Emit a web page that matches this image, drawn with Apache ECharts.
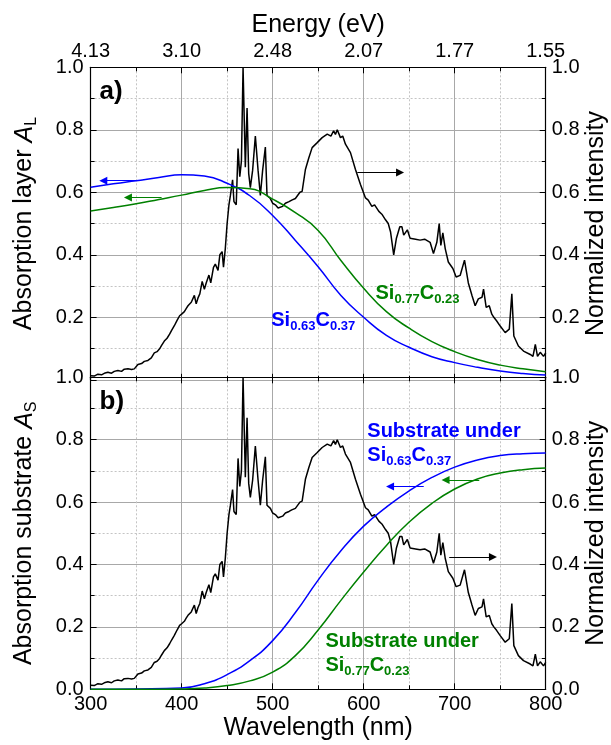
<!DOCTYPE html>
<html>
<head>
<meta charset="utf-8">
<script src="https://cdn.jsdelivr.net/npm/echarts@6/dist/echarts.min.js"></script>
<style>
  html, body { margin: 0; padding: 0; background: #ffffff; }
  #chart { width: 611px; height: 745px; }
</style>
</head>
<body>
<div id="chart"></div>
<script>
// Emission spectrum (normalized intensity vs wavelength in nm)
const specWavelength = [
  300, 304, 308, 312, 316, 319, 323, 326, 330, 334, 337, 341, 345, 348, 350, 352, 356, 359, 363, 366.7,
  370, 373, 375.8, 378, 381, 384, 386.8, 389, 392, 395, 397.8, 400, 403, 405, 407, 410.6, 414, 416, 418, 420,
  422.6, 425, 427, 430, 432, 435, 437, 440, 442, 444.5, 446, 448, 450, 452, 453.6, 456, 457.5, 460, 462, 463.9,
  465.7, 467.5, 470, 471.9, 473.7, 475.5, 478, 481, 484, 486.5, 489, 492, 493.8, 497.5, 500, 503, 506, 508, 511, 514,
  518, 521, 525, 530, 532.4, 536, 539.7, 543.4, 549, 554.4, 560, 564, 567, 569, 571, 574.5, 577, 580, 585.5, 591,
  596.5, 602, 605, 609, 612, 616.7, 620, 624, 627, 629.5, 633, 636, 639.7, 642, 644, 648, 651, 653, 657, 662,
  667, 673, 676.7, 680.4, 683, 684.8, 687, 689.6, 693, 698, 701.6, 706, 710.8, 715, 719, 722.5, 726, 730, 731.7, 734.6,
  738, 740.8, 743, 746, 750, 755.5, 760, 762.8, 765, 770, 775.6, 783, 786, 788.6, 791, 794, 797.6, 800
];
const specIntensity = [
  0.013, 0.012, 0.018, 0.016, 0.022, 0.024, 0.021, 0.027, 0.030, 0.027, 0.034, 0.035, 0.033, 0.035, 0.040, 0.049, 0.052, 0.059, 0.062, 0.070,
  0.086, 0.090, 0.099, 0.110, 0.124, 0.133, 0.146, 0.158, 0.173, 0.190, 0.205, 0.210, 0.218, 0.228, 0.237, 0.248, 0.270, 0.243, 0.262, 0.275,
  0.315, 0.290, 0.310, 0.335, 0.310, 0.360, 0.370, 0.350, 0.400, 0.410, 0.360, 0.420, 0.500, 0.560, 0.590, 0.640, 0.570, 0.560, 0.740, 0.650,
  0.700, 1.000, 0.680, 0.870, 0.660, 0.615, 0.670, 0.780, 0.670, 0.590, 0.670, 0.745, 0.590, 0.580, 0.565, 0.560, 0.550, 0.545, 0.555, 0.565,
  0.570, 0.575, 0.580, 0.600, 0.603, 0.673, 0.710, 0.743, 0.759, 0.775, 0.786, 0.780, 0.797, 0.785, 0.800, 0.775, 0.780, 0.754, 0.727, 0.673,
  0.625, 0.582, 0.575, 0.555, 0.560, 0.539, 0.530, 0.512, 0.500, 0.474, 0.400, 0.453, 0.490, 0.490, 0.463, 0.480, 0.453, 0.455, 0.450, 0.447,
  0.450, 0.440, 0.404, 0.440, 0.500, 0.430, 0.470, 0.420, 0.377, 0.356, 0.329, 0.334, 0.383, 0.310, 0.270, 0.237, 0.259, 0.264, 0.290, 0.232,
  0.237, 0.210, 0.200, 0.189, 0.172, 0.151, 0.162, 0.275, 0.140, 0.108, 0.092, 0.081, 0.075, 0.113, 0.075, 0.088, 0.075, 0.086
];

// Absorption in the layer (panel a)
const layerWavelength = [300, 325, 350, 375, 400, 425, 450, 475, 500, 525, 550, 575, 600, 625, 650, 675, 700, 725, 750, 775, 800];
const layerSi063 = [0.616, 0.627, 0.637, 0.647, 0.656, 0.652, 0.629, 0.589, 0.526, 0.446, 0.362, 0.270, 0.200, 0.142, 0.104, 0.074, 0.055, 0.040, 0.028, 0.020, 0.015];
const layerSi077 = [0.540, 0.551, 0.563, 0.577, 0.591, 0.606, 0.615, 0.611, 0.578, 0.535, 0.478, 0.382, 0.293, 0.218, 0.165, 0.122, 0.090, 0.065, 0.047, 0.035, 0.026];

// Absorption in the substrate (panel b)
const substrateWavelength = [300, 350, 400, 425, 450, 475, 500, 525, 550, 575, 600, 625, 650, 675, 700, 725, 750, 775, 800];
const substrateSi063 = [0.000, 0.001, 0.004, 0.018, 0.047, 0.092, 0.156, 0.246, 0.350, 0.444, 0.523, 0.584, 0.636, 0.679, 0.712, 0.735, 0.749, 0.755, 0.757];
const substrateSi077 = [0.000, 0.000, 0.001, 0.004, 0.012, 0.027, 0.055, 0.108, 0.190, 0.285, 0.376, 0.461, 0.536, 0.596, 0.642, 0.674, 0.693, 0.704, 0.709];

// Tick labels
const wavelengthTicks = [300, 400, 500, 600, 700, 800];
const energyTicks = ['4.13', '3.10', '2.48', '2.07', '1.77', '1.55'];

const BLUE = '#0000ff';
const GREEN = '#008000';
const FONT = '"Liberation Sans", Arial, sans-serif';

const zip = (xs, ys) => xs.map((x, i) => [x, ys[i]]);

const chart = echarts.init(document.getElementById('chart'), null, { renderer: 'canvas' });

const tickStyle = { inside: true, length: 6, lineStyle: { color: '#000', width: 1 } };
const minorTick = { show: true, splitNumber: 2, length: 4, lineStyle: { color: '#000', width: 1 } };
const majorGrid = { show: true, lineStyle: { color: '#a8a8a8', width: 1, type: 'solid' } };
const minorGrid = { show: true, lineStyle: { color: '#c4c4c4', width: 1, type: [2, 2] } };
const axisLine = { show: true, onZero: false, lineStyle: { color: '#000', width: 1.2 } };
const labelStyle = { color: '#000', fontSize: 20, fontFamily: FONT };

function xAxisDef(gridIndex, position, extra) {
  return Object.assign({
    type: 'value', gridIndex, position,
    min: wavelengthTicks[0], max: wavelengthTicks[wavelengthTicks.length - 1], interval: 100,
    axisLine, axisTick: tickStyle, minorTick,
    splitLine: { show: false }, minorSplitLine: { show: false },
    axisLabel: { show: false }
  }, extra);
}

function yAxisDef(gridIndex, position, extra) {
  return Object.assign({
    type: 'value', gridIndex, position,
    min: 0, max: 1, interval: 0.2,
    axisLine, axisTick: tickStyle, minorTick,
    splitLine: { show: false }, minorSplitLine: { show: false },
    axisLabel: Object.assign({ formatter: v => v.toFixed(1), margin: 7 }, labelStyle)
  }, extra);
}

// Subscripts: a top padding on the token shifts its glyphs below the main text.
const nameRich = {
  m: { fontSize: 25, fontFamily: FONT, color: '#000', lineHeight: 30 },
  i: { fontSize: 25, fontFamily: FONT, color: '#000', fontStyle: 'italic', lineHeight: 30 },
  s: { fontSize: 16, fontFamily: FONT, color: '#000', lineHeight: 16, padding: [14, 0, 0, 0] }
};

const arrowLine = (color, from, to) => ({
  silent: true, animation: false,
  symbol: ['none', 'triangle'], symbolSize: 8,
  label: { show: false },
  lineStyle: { color, width: 1.2, type: 'solid' },
  data: [[{ coord: from }, { coord: to }]]
});

const option = {
  animation: false,
  backgroundColor: '#ffffff',
  grid: [
    { left: 90.6, right: 65.3, top: 67.3, height: 312.5, outerBoundsMode: 'none', containLabel: false },
    { left: 90.6, right: 65.3, top: 377.3, height: 312, outerBoundsMode: 'none', containLabel: false }
  ],
  xAxis: [
    xAxisDef(0, 'bottom', {
      axisLine: { show: false },
      splitLine: majorGrid, minorSplitLine: minorGrid
    }),
    xAxisDef(0, 'top', {
      axisLabel: Object.assign({
        show: true, margin: 6,
        formatter: v => energyTicks[wavelengthTicks.indexOf(v)]
      }, labelStyle),
      name: 'Energy (eV)', nameLocation: 'middle', nameGap: 30,
      nameTextStyle: { fontSize: 25, fontFamily: FONT, color: '#000' }
    }),
    xAxisDef(1, 'bottom', {
      splitLine: majorGrid, minorSplitLine: minorGrid,
      axisLabel: Object.assign({ show: true, margin: 5 }, labelStyle),
      name: 'Wavelength (nm)', nameLocation: 'middle', nameGap: 22,
      nameTextStyle: { fontSize: 25, fontFamily: FONT, color: '#000' }
    }),
    xAxisDef(1, 'top', {})
  ],
  yAxis: [
    yAxisDef(0, 'left', {
      splitLine: majorGrid, minorSplitLine: minorGrid,
      axisLabel: Object.assign({ formatter: v => v.toFixed(1), margin: 7, showMinLabel: false }, labelStyle),
      name: '{m|Absorption layer }{i|A}{s|L}', nameLocation: 'middle', nameGap: 51,
      nameTextStyle: { rich: nameRich }
    }),
    yAxisDef(0, 'right', {
      axisLabel: Object.assign({ formatter: v => v.toFixed(1), margin: 6, showMinLabel: false }, labelStyle),
      name: 'Normalized intensity', nameLocation: 'middle', nameGap: 38, nameMoveOverlap: false,
      nameTextStyle: { fontSize: 25, fontFamily: FONT, color: '#000' }
    }),
    yAxisDef(1, 'left', {
      splitLine: majorGrid, minorSplitLine: minorGrid,
      name: '{m|Absorption substrate }{i|A}{s|S}', nameLocation: 'middle', nameGap: 51,
      nameTextStyle: { rich: nameRich }
    }),
    yAxisDef(1, 'right', {
      axisLabel: Object.assign({ formatter: v => v.toFixed(1), margin: 6 }, labelStyle),
      name: 'Normalized intensity', nameLocation: 'middle', nameGap: 38, nameMoveOverlap: false,
      nameTextStyle: { fontSize: 25, fontFamily: FONT, color: '#000' }
    })
  ],
  series: [
    {
      name: 'Layer Si0.63C0.37', type: 'line', xAxisIndex: 0, yAxisIndex: 0,
      data: zip(layerWavelength, layerSi063), smooth: true, showSymbol: false,
      lineStyle: { color: BLUE, width: 1.5 }, z: 3,
      markLine: arrowLine(BLUE, [350, 0.637], [314, 0.637])
    },
    {
      name: 'Layer Si0.77C0.23', type: 'line', xAxisIndex: 0, yAxisIndex: 0,
      data: zip(layerWavelength, layerSi077), smooth: true, showSymbol: false,
      lineStyle: { color: GREEN, width: 1.5 }, z: 3,
      markLine: arrowLine(GREEN, [378, 0.583], [341, 0.583])
    },
    {
      name: 'Spectrum a', type: 'line', xAxisIndex: 0, yAxisIndex: 1,
      data: zip(specWavelength, specIntensity), showSymbol: false,
      lineStyle: { color: '#000', width: 1.5 }, z: 2,
      markLine: arrowLine('#000', [593, 0.663], [640, 0.663])
    },
    {
      name: 'Substrate Si0.63C0.37', type: 'line', xAxisIndex: 2, yAxisIndex: 2,
      data: zip(substrateWavelength, substrateSi063), smooth: true, showSymbol: false,
      lineStyle: { color: BLUE, width: 1.5 }, z: 3,
      markLine: arrowLine(BLUE, [666, 0.65], [629, 0.65])
    },
    {
      name: 'Substrate Si0.77C0.23', type: 'line', xAxisIndex: 2, yAxisIndex: 2,
      data: zip(substrateWavelength, substrateSi077), smooth: true, showSymbol: false,
      lineStyle: { color: GREEN, width: 1.5 }, z: 3,
      markLine: arrowLine(GREEN, [727, 0.671], [690, 0.671])
    },
    {
      name: 'Spectrum b', type: 'line', xAxisIndex: 2, yAxisIndex: 3,
      data: zip(specWavelength, specIntensity), showSymbol: false,
      lineStyle: { color: '#000', width: 1.5 }, z: 2,
      markLine: arrowLine('#000', [694, 0.424], [742, 0.424])
    }
  ]
};

chart.setOption(option);

// Curve labels, anchored at data positions (top-left corner of the text block)
const labelRich = (color) => ({
  m: { fontSize: 20, fontWeight: 'bold', fontFamily: FONT, fill: color, lineHeight: 24 },
  s: { fontSize: 13, fontWeight: 'bold', fontFamily: FONT, fill: color, lineHeight: 14, padding: [12, 0, 0, 0] }
});
const curveLabels = [
  { grid: 0, at: [498.5, 0.228], color: BLUE, text: '{m|Si}{s|0.63}{m|C}{s|0.37}' },
  { grid: 0, at: [613.0, 0.315], color: GREEN, text: '{m|Si}{s|0.77}{m|C}{s|0.23}' },
  { grid: 1, at: [604.0, 0.866], color: BLUE, text: '{m|Substrate under}\n{m|Si}{s|0.63}{m|C}{s|0.37}' },
  { grid: 1, at: [558.0, 0.193], color: GREEN, text: '{m|Substrate under}\n{m|Si}{s|0.77}{m|C}{s|0.23}' }
];
const panelTags = [
  { grid: 0, text: 'a)' },
  { grid: 1, text: 'b)' }
];

const graphics = curveLabels.map(l => {
  const p = chart.convertToPixel({ gridIndex: l.grid }, l.at);
  return {
    type: 'text', x: p[0], y: p[1], z: 10, silent: true,
    style: { text: l.text, rich: labelRich(l.color), fill: l.color, align: 'left', verticalAlign: 'top' }
  };
});
panelTags.forEach(t => {
  const r = chart.getModel().getComponent('grid', t.grid).coordinateSystem.getRect();
  graphics.push({
    type: 'text', x: r.x + 9, y: r.y + 25, z: 10, silent: true,
    style: { text: t.text, fill: '#000', font: 'bold 26px ' + FONT, align: 'left', verticalAlign: 'middle' }
  });
});
chart.setOption({ graphic: graphics });
</script>
</body>
</html>
